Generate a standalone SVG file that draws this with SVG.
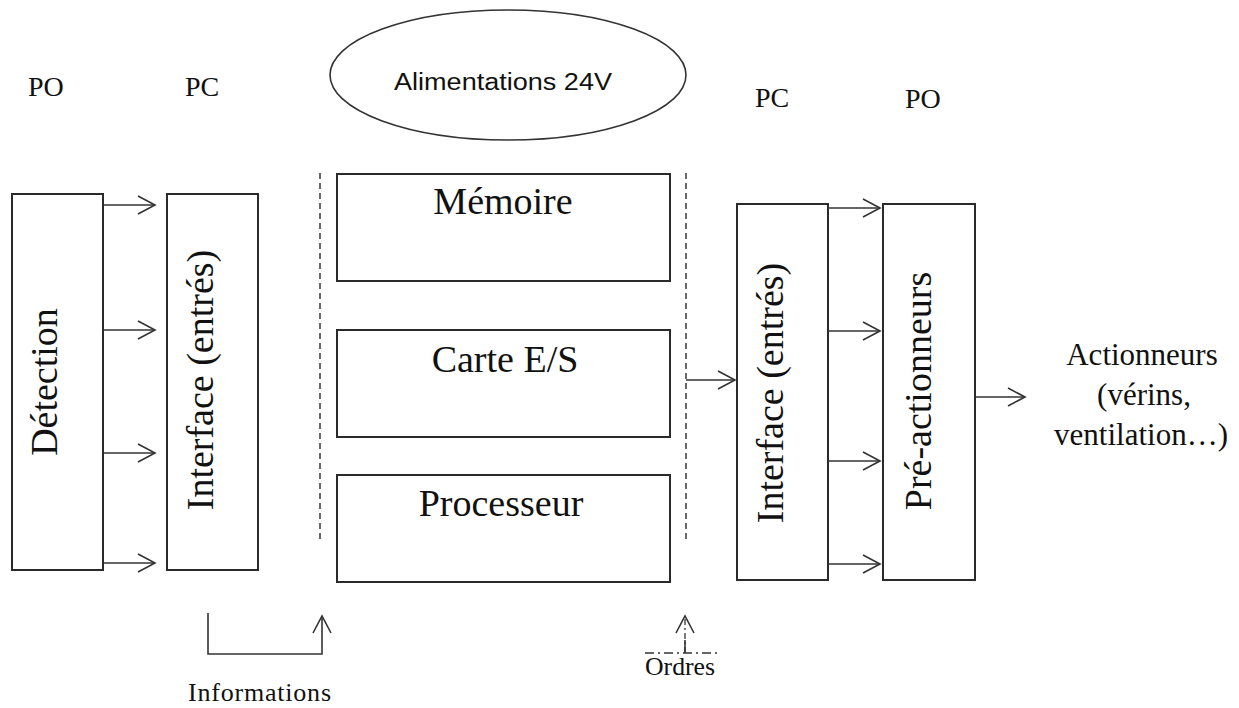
<svg xmlns="http://www.w3.org/2000/svg" width="1239" height="708" viewBox="0 0 1239 708">
<defs>
<style>
.box{fill:#fff;stroke:#2a2a2a;stroke-width:2}
.ser{font-family:"Liberation Serif","Times New Roman",serif;fill:#111}
.big{font-size:38px}
.lab{font-size:28px}
.ln{fill:none;stroke:#333;stroke-width:1.6}
.dash{fill:none;stroke:#444;stroke-width:1.6;stroke-dasharray:6 4}
</style>
<marker id="ah" viewBox="0 0 20 20" refX="18" refY="10" markerWidth="20" markerHeight="20" markerUnits="userSpaceOnUse" orient="auto">
<path d="M1,1 L18,10 L1,19" fill="none" stroke="#333" stroke-width="1.6"/>
</marker>
</defs>
<rect width="1239" height="708" fill="#fff"/>

<g id="labels-top">
<text class="ser lab" x="28" y="96">PO</text>
<text class="ser lab" x="185" y="96">PC</text>
<text class="ser lab" x="755" y="107">PC</text>
<text class="ser lab" x="905" y="108">PO</text>
</g>

<g id="alimentation">
<ellipse cx="508" cy="75" rx="178" ry="65" fill="#fff" stroke="#333" stroke-width="1.6"/>
<text x="503" y="90" text-anchor="middle" font-family="'Liberation Sans Narrow','Liberation Sans',sans-serif" font-size="23" textLength="218" lengthAdjust="spacingAndGlyphs" fill="#111">Alimentations 24V</text>
</g>

<g id="detection">
<rect class="box" x="12" y="194" width="91" height="376"/>
<text class="ser big" transform="translate(57,382) rotate(-90)" text-anchor="middle">Détection</text>
</g>

<g id="interface-entree">
<rect class="box" x="167" y="194" width="91" height="376"/>
<text class="ser big" transform="translate(213,380) rotate(-90)" text-anchor="middle">Interface (entrés)</text>
</g>

<g id="memoire">
<rect class="box" x="337" y="174" width="333" height="107"/>
<text class="ser big" x="503" y="214" text-anchor="middle">Mémoire</text>
</g>

<g id="carte-es">
<rect class="box" x="337" y="330" width="333" height="107"/>
<text class="ser big" x="505" y="372" text-anchor="middle">Carte E/S</text>
</g>

<g id="processeur">
<rect class="box" x="337" y="475" width="333" height="107"/>
<text class="ser big" x="501" y="516" text-anchor="middle">Processeur</text>
</g>

<g id="interface-sortie">
<rect class="box" x="737" y="204" width="91" height="376"/>
<text class="ser big" transform="translate(783,393) rotate(-90)" text-anchor="middle">Interface (entrés)</text>
</g>

<g id="pre-actionneurs">
<rect class="box" x="883" y="204" width="92" height="376"/>
<text class="ser big" transform="translate(931,391) rotate(-90)" text-anchor="middle">Pré-actionneurs</text>
</g>

<g id="actionneurs">
<text class="ser" font-size="31" text-anchor="middle"><tspan x="1142" y="365">Actionneurs</tspan><tspan x="1144" y="405">(vérins,</tspan><tspan x="1141" y="445">ventilation…)</tspan></text>
</g>

<g id="informations">
<text class="ser" font-size="26" x="188" y="701" textLength="143" lengthAdjust="spacing">Informations</text>
</g>

<g id="ordres">
<text class="ser" font-size="25" x="645" y="675" textLength="70" lengthAdjust="spacingAndGlyphs">Ordres</text>
</g>

<g id="connectors">
<line class="dash" x1="320" y1="173" x2="320" y2="540"/>
<line class="dash" x1="686" y1="173" x2="686" y2="540"/>
<line class="ln" x1="103" y1="205" x2="155" y2="205" marker-end="url(#ah)"/>
<line class="ln" x1="103" y1="330" x2="155" y2="330" marker-end="url(#ah)"/>
<line class="ln" x1="103" y1="453" x2="155" y2="453" marker-end="url(#ah)"/>
<line class="ln" x1="103" y1="563" x2="155" y2="563" marker-end="url(#ah)"/>
<line class="ln" x1="686" y1="380" x2="735" y2="380" marker-end="url(#ah)"/>
<line class="ln" x1="828" y1="208" x2="880" y2="208" marker-end="url(#ah)"/>
<line class="ln" x1="828" y1="331" x2="880" y2="331" marker-end="url(#ah)"/>
<line class="ln" x1="828" y1="461" x2="880" y2="461" marker-end="url(#ah)"/>
<line class="ln" x1="828" y1="564" x2="880" y2="564" marker-end="url(#ah)"/>
<line class="ln" x1="975" y1="397" x2="1025" y2="397" marker-end="url(#ah)"/>
<polyline class="ln" points="208,613 208,654 322,654 322,616" marker-end="url(#ah)"/>
<line x1="685" y1="653" x2="685" y2="616" stroke="#444" stroke-width="1.4" stroke-dasharray="6 3 2 3" marker-end="url(#ah)"/>
<line x1="685" y1="640" x2="685" y2="653" stroke="#333" stroke-width="1.6"/>
<line x1="645" y1="653" x2="720" y2="653" stroke="#333" stroke-width="1.4" stroke-dasharray="9 4 2 4"/>
</g>
</svg>
